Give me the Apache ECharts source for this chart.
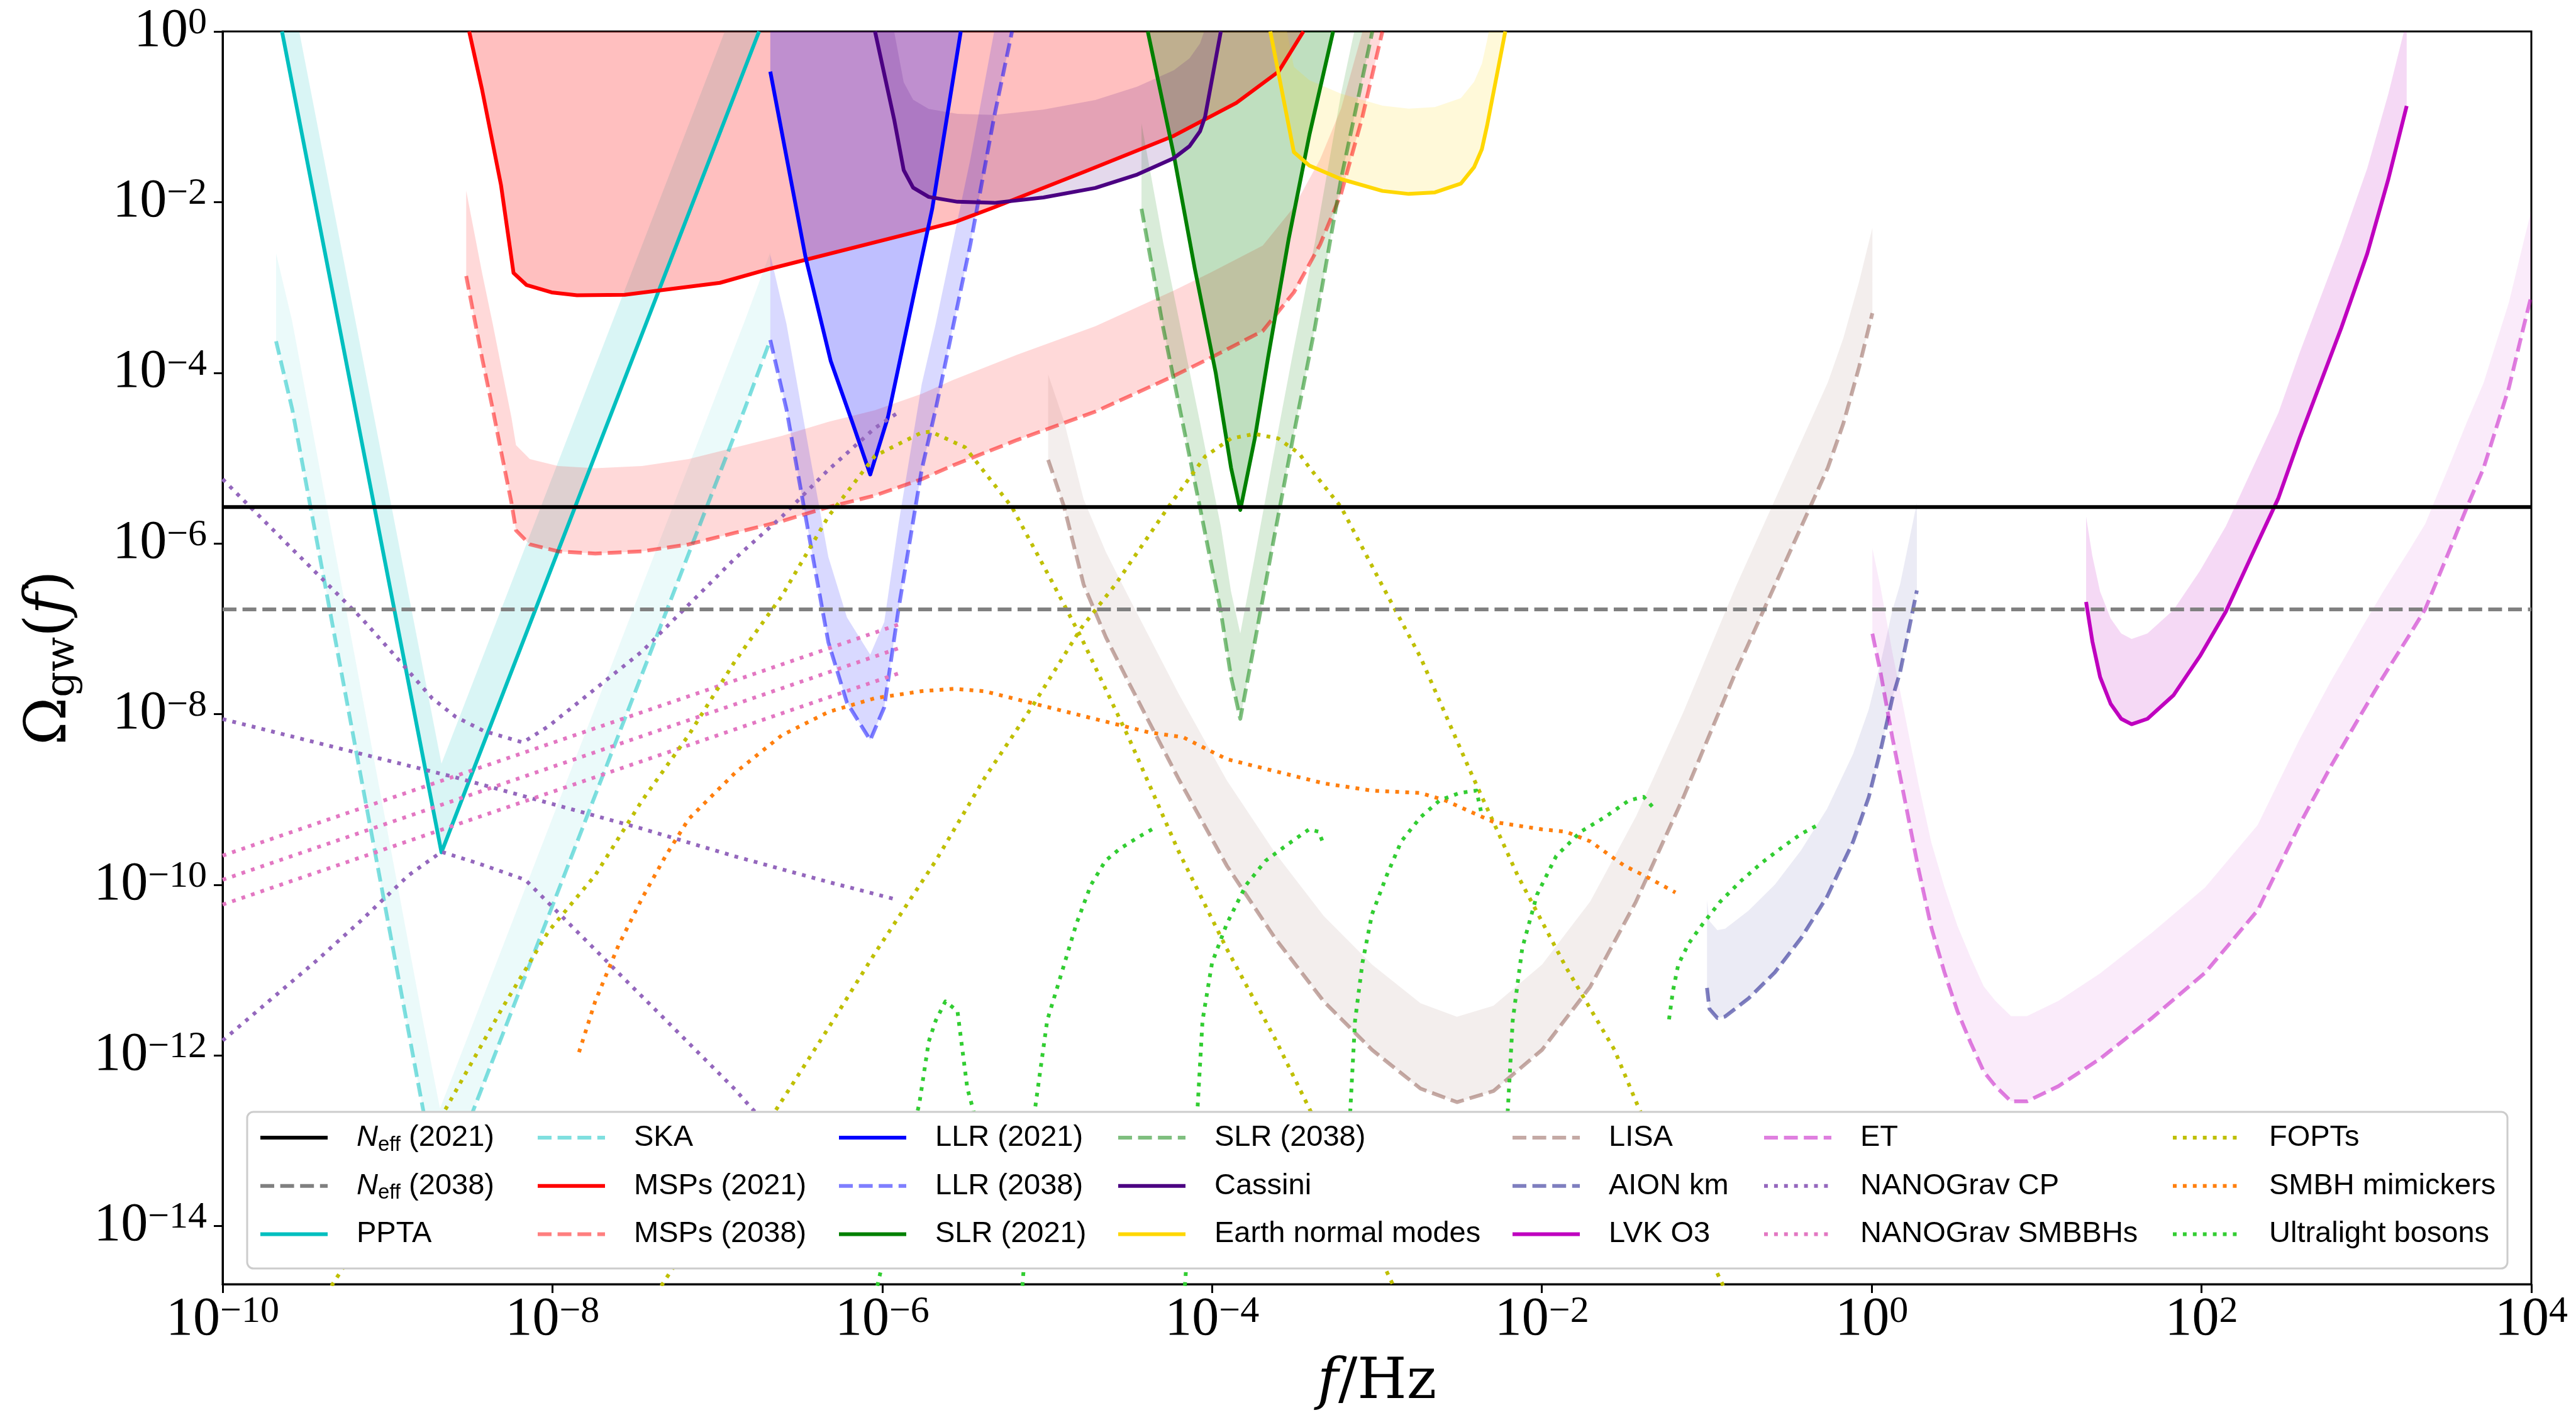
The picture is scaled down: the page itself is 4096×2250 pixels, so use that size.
<!DOCTYPE html>
<html>
<head>
<meta charset="utf-8">
<script src="https://cdn.jsdelivr.net/npm/echarts/dist/echarts.min.js"></script>
<style>
html,body{margin:0;padding:0;background:#fff;}
#c{width:4096px;height:2250px;}
</style>
</head>
<body>
<div id="c"></div>
<script>
// Every point below is [log10(f / Hz), log10(Omega_gw)].
const xTicks = [-10, -8, -6, -4, -2, 0, 2, 4];
const yTicks = [-14, -12, -10, -8, -6, -4, -2, 0];
const X_MIN = -10, X_MAX = 4, Y_MIN = -14.68, Y_MAX = 0;

const neff2021Log = -5.573;
const neff2038Log = -6.772;

const pptaLog = [[-9.64,0],[-8.673,-9.62],[-6.747,0]];
const pptaBandW = 1.04;
const skaLog = [[-9.676,-3.63],[-9.578,-4.427],[-8.786,-12.618],[-8.682,-13.65],[-8.475,-12.618],[-6.835,-4.427],[-6.679,-3.616]];
const skaBandW = 1.03;

const msp2021Log = [[-8.505,0],[-8.427,-0.68],[-8.312,-1.8],[-8.236,-2.83],[-8.158,-2.97],[-8.005,-3.058],[-7.851,-3.092],[-7.562,-3.086],[-6.985,-2.946],[-6.679,-2.78],[-5.563,-2.236],[-5.32,-2.06],[-4.771,-1.642],[-4.232,-1.223],[-3.853,-0.838],[-3.597,-0.471],[-3.446,0]];
const msp2038Log = [[-8.523,-2.866],[-8.427,-3.826],[-8.362,-4.427],[-8.306,-4.973],[-8.249,-5.519],[-8.221,-5.847],[-8.137,-6.011],[-7.966,-6.092],[-7.74,-6.119],[-7.457,-6.092],[-7.175,-6.011],[-6.892,-5.875],[-6.608,-5.738],[-6.327,-5.574],[-6.044,-5.438],[-5.761,-5.247],[-5.569,-5.083],[-5.182,-4.787],[-4.708,-4.455],[-4.232,-4.037],[-4.01,-3.826],[-3.693,-3.51],[-3.504,-3.058],[-3.345,-2.497],[-3.218,-1.904],[-3.092,-1.03],[-2.967,0]];
const msp2038BandW = 1.0;

const llr2021Log = [[-6.679,-0.471],[-6.466,-2.638],[-6.313,-3.859],[-6.179,-4.595],[-6.073,-5.192],[-5.966,-4.523],[-5.813,-3.126],[-5.697,-2.078],[-5.524,0]];
const llr2038Log = [[-6.679,-3.616],[-6.581,-4.427],[-6.44,-5.955],[-6.327,-7.158],[-6.214,-7.866],[-6.073,-8.304],[-5.988,-7.92],[-5.902,-6.775],[-5.761,-5.137],[-5.676,-4.427],[-5.466,-2.497],[-5.321,-0.996],[-5.213,0]];
const llr2038BandW = 1.0;

const slr2021Log = [[-4.39,0],[-4.232,-1.448],[-4.105,-2.778],[-3.978,-4.0],[-3.885,-5.113],[-3.829,-5.608],[-3.741,-4.77],[-3.661,-3.826],[-3.535,-2.427],[-3.409,-1.205],[-3.266,0]];
const slr2038Log = [[-4.428,-2.078],[-4.296,-3.476],[-4.074,-5.573],[-3.947,-6.8],[-3.885,-7.565],[-3.829,-8.055],[-3.747,-7.216],[-3.63,-5.993],[-3.51,-4.77],[-3.377,-3.476],[-3.218,-1.73],[-3.028,0]];
const slr2038BandW = 1.0;

const cassiniLog = [[-6.044,0],[-5.928,-1.03],[-5.87,-1.625],[-5.813,-1.83],[-5.718,-1.939],[-5.544,-1.996],[-5.32,-2.009],[-5.023,-1.946],[-4.708,-1.834],[-4.454,-1.677],[-4.232,-1.485],[-4.137,-1.345],[-4.073,-1.17],[-4.042,-0.996],[-3.947,0]];
const cassiniBandW = 1.03;

const earthLog = [[-3.647,0],[-3.504,-1.414],[-3.41,-1.571],[-3.218,-1.73],[-2.967,-1.869],[-2.807,-1.904],[-2.649,-1.886],[-2.491,-1.782],[-2.411,-1.59],[-2.364,-1.38],[-2.332,-1.1],[-2.222,0]];
const earthBandW = 1.0;

const lisaLog = [[-4.994,-5.02],[-4.897,-5.573],[-4.779,-6.482],[-4.644,-7.1],[-4.5,-7.65],[-4.205,-8.753],[-3.911,-9.776],[-3.617,-10.628],[-3.323,-11.366],[-3.03,-11.934],[-2.736,-12.388],[-2.515,-12.547],[-2.294,-12.417],[-1.999,-11.934],[-1.707,-11.195],[-1.43,-10.2],[-1.142,-8.975],[-0.825,-7.51],[-0.266,-5.113],[-0.172,-4.595],[-0.076,-3.93],[0.004,-3.302]];
const lisaBandW = 1.0;

const aionLog = [[-0.999,-11.208],[-0.984,-11.455],[-0.936,-11.561],[-0.889,-11.544],[-0.747,-11.332],[-0.587,-11.026],[-0.429,-10.626],[-0.271,-10.14],[-0.113,-9.496],[-0.018,-8.975],[0.061,-8.366],[0.125,-7.815],[0.172,-7.51],[0.274,-6.551]];
const aionBandW = 1.03;

const etLog = [[0.004,-7.058],[0.052,-7.496],[0.125,-8.274],[0.204,-9.037],[0.282,-9.803],[0.362,-10.506],[0.441,-11.026],[0.52,-11.482],[0.6,-11.852],[0.679,-12.188],[0.75,-12.36],[0.845,-12.538],[0.941,-12.538],[1.132,-12.36],[1.385,-12.038],[1.704,-11.554],[2.022,-11.03],[2.34,-10.3],[2.593,-9.3],[2.784,-8.613],[2.941,-8.09],[3.101,-7.565],[3.26,-7.076],[3.356,-6.772],[3.515,-6.028],[3.61,-5.573],[3.71,-5.12],[3.864,-4.175],[3.96,-3.408],[4.0,-3.1]];
const etBandW = 1.0;

const lvkLog = [[1.30,-6.685],[1.338,-7.147],[1.385,-7.565],[1.449,-7.88],[1.513,-8.055],[1.576,-8.118],[1.672,-8.055],[1.831,-7.776],[1.99,-7.321],[2.147,-6.8],[2.306,-6.133],[2.466,-5.469],[2.594,-4.77],[2.847,-3.477],[3.005,-2.603],[3.133,-1.729],[3.244,-0.873]];
const lvkBandW = 1.0;

const nanoCpUpperLog = [[-10,-5.247],[-9.719,-5.792],[-9.436,-6.338],[-9.154,-6.884],[-8.927,-7.376],[-8.73,-7.813],[-8.588,-8.03],[-8.419,-8.195],[-8.179,-8.332],[-8.023,-8.14],[-7.74,-7.703],[-7.457,-7.266],[-7.175,-6.72],[-6.892,-6.174],[-6.608,-5.684],[-6.327,-5.137],[-6.044,-4.647],[-5.91,-4.473]];
const nanoCpMidLog = [[-10,-8.058],[-9.154,-8.468],[-8.588,-8.741],[-8.023,-9.041],[-7.457,-9.342],[-6.892,-9.667],[-6.327,-9.967],[-5.917,-10.171]];
const nanoCpLowerLog = [[-10,-11.825],[-9.719,-11.362],[-9.436,-10.898],[-9.154,-10.407],[-8.871,-9.886],[-8.673,-9.614],[-8.447,-9.751],[-8.165,-9.941],[-7.966,-10.325],[-7.74,-10.762],[-7.457,-11.308],[-7.175,-11.852],[-6.892,-12.4],[-6.793,-12.618],[-6.7,-12.8]];

const smbbh1Log = [[-10,-9.658],[-5.902,-6.95]];
const smbbh2Log = [[-10,-9.941],[-5.902,-7.229]];
const smbbh3Log = [[-10,-10.232],[-5.902,-7.523]];

const fopt1Log = [[-9.34,-14.7],[-8.645,-12.618],[-8.306,-11.45],[-8.023,-10.543],[-7.74,-9.886],[-7.457,-9.014],[-7.175,-8.249],[-6.892,-7.376],[-6.608,-6.612],[-6.327,-5.684],[-6.044,-4.973],[-5.761,-4.70],[-5.705,-4.69],[-5.498,-4.873],[-5.214,-5.573],[-4.97,-6.45],[-4.794,-7.1],[-4.5,-8.3],[-4.205,-9.6],[-3.911,-10.75],[-3.619,-11.8],[-3.412,-12.615],[-2.9,-14.7]];
const fopt2Log = [[-7.34,-14.7],[-6.638,-12.618],[-6.327,-11.68],[-6.044,-10.8],[-5.676,-9.719],[-5.381,-8.753],[-5.088,-7.902],[-4.794,-6.993],[-4.587,-6.482],[-4.264,-5.57],[-4.042,-4.98],[-3.885,-4.77],[-3.741,-4.716],[-3.599,-4.77],[-3.472,-4.945],[-3.409,-5.113],[-3.218,-5.573],[-2.971,-6.482],[-2.736,-7.334],[-2.441,-8.64],[-2.147,-9.89],[-1.853,-10.969],[-1.56,-11.934],[-1.413,-12.615],[-0.9,-14.7]];

const smbhLog = [[-7.839,-11.962],[-7.74,-11.362],[-7.599,-10.707],[-7.457,-10.16],[-7.316,-9.669],[-7.175,-9.232],[-6.892,-8.686],[-6.61,-8.249],[-6.327,-7.975],[-6.044,-7.813],[-5.761,-7.731],[-5.569,-7.703],[-5.381,-7.731],[-5.088,-7.873],[-4.794,-8.016],[-4.559,-8.129],[-4.382,-8.214],[-4.176,-8.27],[-4.029,-8.414],[-3.911,-8.527],[-3.617,-8.669],[-3.323,-8.811],[-3.03,-8.896],[-2.736,-8.924],[-2.588,-9.01],[-2.294,-9.263],[-1.999,-9.35],[-1.853,-9.378],[-1.706,-9.492],[-1.5,-9.776],[-1.353,-9.918],[-1.19,-10.09]];

const ub1Log = [[-6.03,-14.7],[-5.775,-12.56],[-5.718,-11.836],[-5.676,-11.592],[-5.617,-11.366],[-5.544,-11.48],[-5.514,-11.934],[-5.484,-12.386],[-5.448,-12.64],[-5.42,-12.9]];
const ub2Log = [[-5.15,-14.7],[-5.073,-12.615],[-5.0,-11.592],[-4.911,-11.023],[-4.823,-10.458],[-4.735,-10.003],[-4.647,-9.719],[-4.559,-9.577],[-4.441,-9.434],[-4.339,-9.322]];
const ub3Log = [[-4.165,-14.7],[-4.088,-12.615],[-4.058,-11.592],[-4.0,-10.912],[-3.911,-10.458],[-3.794,-10.003],[-3.676,-9.719],[-3.558,-9.549],[-3.412,-9.35],[-3.353,-9.378],[-3.325,-9.521]];
const ub4Log = [[-3.17,-12.9],[-3.161,-12.615],[-3.133,-11.592],[-3.088,-10.912],[-3.03,-10.344],[-2.941,-9.89],[-2.853,-9.492],[-2.736,-9.208],[-2.619,-9.01],[-2.5,-8.924],[-2.397,-8.896],[-2.368,-9.151]];
const ub5Log = [[-2.215,-12.9],[-2.206,-12.615],[-2.177,-11.592],[-2.119,-10.741],[-2.03,-10.117],[-1.913,-9.662],[-1.765,-9.378],[-1.619,-9.208],[-1.471,-9.01],[-1.383,-8.969],[-1.325,-9.095]];
const ub6Log = [[-1.229,-11.576],[-1.205,-11.24],[-1.173,-10.934],[-1.11,-10.688],[-1.031,-10.475],[-0.92,-10.2],[-0.793,-9.955],[-0.667,-9.742],[-0.541,-9.558],[-0.429,-9.405],[-0.326,-9.298]];

const legendColumns = [
  ['N_eff (2021)', 'N_eff (2038)', 'PPTA'],
  ['SKA', 'MSPs (2021)', 'MSPs (2038)'],
  ['LLR (2021)', 'LLR (2038)', 'SLR (2021)'],
  ['SLR (2038)', 'Cassini', 'Earth normal modes'],
  ['LISA', 'AION km', 'LVK O3'],
  ['ET', 'NANOGrav CP', 'NANOGrav SMBBHs'],
  ['FOPTs', 'SMBH mimickers', 'Ultralight bosons']
];

// ---------- styling ----------
const LW = 6;
const DASH = [22, 9.6];
const DOT = [6, 9.9];
const series = [];

function bandPoly(lower, w) {
  return lower.concat(lower.slice().reverse().map(p => [p[0], p[1] + w]));
}
function topPoly(lower) {
  return lower.concat([[lower[lower.length - 1][0], Y_MAX], [lower[0][0], Y_MAX]]);
}
function addBand(name, poly, fill) {
  series.push({
    type: 'custom', name: name, data: poly, silent: true, z: 2, animation: false,
    encode: { x: 0, y: 1 },
    renderItem: function (params, api) {
      if (params.dataIndex !== 0) return null;
      const pts = poly.map(p => api.coord(p));
      const cs = params.coordSys;
      return {
        type: 'polygon', shape: { points: pts }, style: { fill: fill, stroke: null },
        clipPath: { type: 'rect', shape: { x: cs.x, y: cs.y, width: cs.width, height: cs.height } }
      };
    }
  });
}
function addLine(name, data, color, kind) {
  series.push({
    type: 'line', name: name, data: data, symbol: 'none', showSymbol: false, silent: true,
    z: 3, animation: false, clip: true,
    lineStyle: { color: color, width: LW, type: kind === 'dash' ? DASH : (kind === 'dot' ? DOT : 'solid'), cap: 'butt', join: 'round' },
    itemStyle: { color: color },
    emphasis: { disabled: true }
  });
}

// bands
addBand('band PPTA', bandPoly(pptaLog, pptaBandW), 'rgba(0,191,191,0.15)');
addBand('band SKA', bandPoly(skaLog, skaBandW), 'rgba(0,191,191,0.08)');
addBand('band MSP21', topPoly(msp2021Log), 'rgba(255,0,0,0.25)');
addBand('band MSP38', bandPoly(msp2038Log, msp2038BandW), 'rgba(255,0,0,0.15)');
addBand('band LLR21', topPoly(llr2021Log), 'rgba(0,0,255,0.25)');
addBand('band LLR38', bandPoly(llr2038Log, llr2038BandW), 'rgba(0,0,255,0.15)');
addBand('band SLR21', topPoly(slr2021Log), 'rgba(0,128,0,0.25)');
addBand('band SLR38', bandPoly(slr2038Log, slr2038BandW), 'rgba(0,128,0,0.15)');
addBand('band Cassini', bandPoly(cassiniLog, cassiniBandW), 'rgba(75,0,130,0.15)');
addBand('band Earth', bandPoly(earthLog, earthBandW), 'rgba(255,215,0,0.15)');
addBand('band LISA', bandPoly(lisaLog, lisaBandW), 'rgba(140,86,75,0.1)');
addBand('band AION', bandPoly(aionLog, aionBandW), 'rgba(0,0,128,0.08)');
addBand('band LVK', bandPoly(lvkLog, lvkBandW), 'rgba(191,0,191,0.15)');
addBand('band ET', bandPoly(etLog, etBandW), 'rgba(191,0,191,0.08)');

// lines
addLine('PPTA', pptaLog, '#00bfbf', 'solid');
addLine('SKA', skaLog, 'rgba(0,191,191,0.5)', 'dash');
addLine('MSPs (2021)', msp2021Log, '#ff0000', 'solid');
addLine('MSPs (2038)', msp2038Log, 'rgba(255,0,0,0.5)', 'dash');
addLine('LLR (2021)', llr2021Log, '#0000ff', 'solid');
addLine('LLR (2038)', llr2038Log, 'rgba(0,0,255,0.5)', 'dash');
addLine('SLR (2021)', slr2021Log, '#008000', 'solid');
addLine('SLR (2038)', slr2038Log, 'rgba(0,128,0,0.5)', 'dash');
addLine('Cassini', cassiniLog, '#4b0082', 'solid');
addLine('Earth normal modes', earthLog, '#ffd700', 'solid');
addLine('LISA', lisaLog, 'rgba(140,86,75,0.5)', 'dash');
addLine('AION km', aionLog, 'rgba(0,0,128,0.5)', 'dash');
addLine('LVK O3', lvkLog, '#bf00bf', 'solid');
addLine('ET', etLog, 'rgba(191,0,191,0.5)', 'dash');
addLine('NANOGrav CP', nanoCpUpperLog, '#9467bd', 'dot');
addLine('NANOGrav CP', nanoCpMidLog, '#9467bd', 'dot');
addLine('NANOGrav CP', nanoCpLowerLog, '#9467bd', 'dot');
addLine('NANOGrav SMBBHs', smbbh1Log, '#e377c2', 'dot');
addLine('NANOGrav SMBBHs', smbbh2Log, '#e377c2', 'dot');
addLine('NANOGrav SMBBHs', smbbh3Log, '#e377c2', 'dot');
addLine('FOPTs', fopt1Log, '#bfbf00', 'dot');
addLine('FOPTs', fopt2Log, '#bfbf00', 'dot');
addLine('SMBH mimickers', smbhLog, '#ff7f0e', 'dot');
[ub1Log, ub2Log, ub3Log, ub4Log, ub5Log, ub6Log].forEach(d => addLine('Ultralight bosons', d, '#32cd32', 'dot'));
addLine('N_eff (2021)', [[X_MIN, neff2021Log], [X_MAX, neff2021Log]], '#000000', 'solid');
addLine('N_eff (2038)', [[X_MIN, neff2038Log], [X_MAX, neff2038Log]], '#808080', 'dash');

// ---------- axes ----------
function powLabel(v) {
  const e = Math.round(v);
  if (Math.abs(v - e) > 1e-6) return '';
  return '{b|10}{s|' + (e < 0 ? '\u2212' + (-e) : String(e)) + '}';
}
const tickRich = {
  b: { fontFamily: 'Liberation Serif', fontSize: 86, lineHeight: 86, color: '#000' },
  s: { fontFamily: 'Liberation Serif', fontSize: 60, lineHeight: 50, verticalAlign: 'top', color: '#000' }
};
const axisLine = { show: true, onZero: false, lineStyle: { color: '#000', width: 3 } };
const axisTick = { show: true, inside: false, length: 14, lineStyle: { color: '#000', width: 3 } };

const legendRich = {
  sp: { width: 41 },
  t: { fontFamily: 'Liberation Sans', fontSize: 47, lineHeight: 56, color: '#000' },
  n: { fontFamily: 'Liberation Sans', fontSize: 47, lineHeight: 56, fontStyle: 'italic', color: '#000' },
  e: { fontFamily: 'Liberation Sans', fontSize: 33, lineHeight: 30, verticalAlign: 'bottom', color: '#000' }
};
function legendFmt(name) {
  if (name.indexOf('N_eff') === 0) {
    return '{sp| }{n|N}{e|eff}{t| ' + name.slice(6) + '}';
  }
  return '{sp| }{t|' + name + '}';
}
const legendLefts = [411, 852, 1331, 1775, 2402, 2802, 3452];
const legends = legendColumns.map((names, i) => ({
  data: names, orient: 'vertical', left: legendLefts[i], top: 1781, padding: 0,
  itemGap: 20.7, itemWidth: 107, itemHeight: 20, z: 60, selectedMode: false,
  lineStyle: { width: LW },
  itemStyle: { opacity: 0 },
  textStyle: { fontFamily: 'Liberation Sans', fontSize: 47, lineHeight: 56, color: '#000', rich: legendRich },
  formatter: legendFmt
}));

const option = {
  backgroundColor: '#ffffff',
  animation: false,
  grid: { left: 354, right: 71, top: 50, bottom: 207, show: true, borderColor: '#000', borderWidth: 3, backgroundColor: 'transparent' },
  xAxis: {
    type: 'value', min: X_MIN, max: X_MAX, interval: 2, position: 'bottom',
    axisLine: axisLine, axisTick: axisTick, splitLine: { show: false },
    axisLabel: { margin: 14, formatter: powLabel, rich: tickRich, showMinLabel: true, showMaxLabel: true, hideOverlap: false },
    name: '{f|f}{o|/Hz}', nameLocation: 'middle', nameGap: 110,
    nameTextStyle: { rich: {
      f: { fontFamily: 'DejaVu Serif', fontStyle: 'italic', fontSize: 90, lineHeight: 96, color: '#000' },
      o: { fontFamily: 'DejaVu Serif', fontSize: 90, lineHeight: 96, color: '#000' }
    } }
  },
  yAxis: {
    type: 'value', min: Y_MIN, max: Y_MAX, splitNumber: 7, position: 'left',
    axisLine: axisLine,
    axisTick: Object.assign({ customValues: yTicks }, axisTick),
    splitLine: { show: false },
    axisLabel: { margin: 25, formatter: powLabel, rich: tickRich, customValues: yTicks, showMinLabel: true, showMaxLabel: true, hideOverlap: false },
    name: '{o|\u03A9}{g|gw}{o|(}{f|f}{o|)}', nameLocation: 'middle', nameGap: 222, nameRotate: 90,
    nameTextStyle: { rich: {
      o: { fontFamily: 'DejaVu Serif', fontSize: 92, lineHeight: 104, color: '#000' },
      f: { fontFamily: 'DejaVu Serif', fontStyle: 'italic', fontSize: 92, lineHeight: 104, color: '#000' },
      g: { fontFamily: 'DejaVu Serif', fontSize: 64, lineHeight: 54, verticalAlign: 'bottom', color: '#000' }
    } }
  },
  legend: legends,
  graphic: [{
    type: 'rect', z: 50, silent: true,
    shape: { x: 393, y: 1768, width: 3594, height: 249, r: 10 },
    style: { fill: '#ffffff', stroke: '#cccccc', lineWidth: 3 }
  }],
  series: series
};

const chart = echarts.init(document.getElementById('c'), null, { renderer: 'canvas', width: 4096, height: 2250 });
chart.setOption(option);
</script>
</body>
</html>
